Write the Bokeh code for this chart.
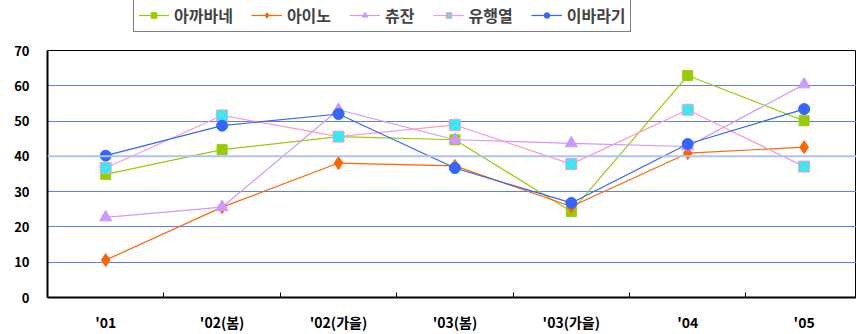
from bokeh.plotting import figure
from bokeh.layouts import column
from bokeh.models import Range1d, FixedTicker, Legend, LegendItem, Span
from bokeh.embed import file_html
from bokeh.resources import INLINE

categories = ["'01", "'02(봄)", "'02(가을)", "'03(봄)", "'03(가을)", "'04", "'05"]
y_ticks = [0, 10, 20, 30, 40, 50, 60, 70]

akabane = [34.9, 41.9, 45.6, 44.7, 24.4, 62.9, 50.1]
aino = [10.6, 25.6, 38.1, 37.3, 25.8, 40.9, 42.6]
chujan = [22.7, 25.6, 53.2, 44.7, 43.7, 42.8, 60.4]
yuhaengyeol = [36.7, 51.6, 45.6, 48.9, 37.8, 53.2, 37.1]
ibaragi = [40.2, 48.7, 52.0, 36.7, 26.8, 43.5, 53.4]

series = [
    ("아까바네", akabane, "#99CC00", "square", "#99CC00", "#99CC00", 10),
    ("아이노", aino, "#FF6600", "diamond", "#FF6600", "#FF6600", 13),
    ("츄잔", chujan, "#CC99FF", "triangle", "#CC99FF", "#CC99FF", 12),
    ("유행열", yuhaengyeol, "#FF99CC", "square_x", "#00FFFF", "#FF99CC", 11),
    ("이바라기", ibaragi, "#3366FF", "circle", "#3366FF", "#3366FF", 11),
]

FONT = "Noto Sans CJK KR"
xs = list(range(len(categories)))

# ---- main chart ----
p = figure(width=856, height=294, output_backend="svg", toolbar_location=None,
           x_range=Range1d(-0.5, 6.45), y_range=Range1d(0, 70),
           min_border_left=47, min_border_right=0, min_border_top=10,
           min_border_bottom=36)
p.background_fill_color = "white"
p.border_fill_color = "white"
p.outline_line_color = "black"
p.outline_line_width = 1

# horizontal grid lines
p.xgrid.grid_line_color = None
p.ygrid.grid_line_color = "#5B7FF5"
p.ygrid.grid_line_width = 1
p.ygrid.ticker = FixedTicker(ticks=[10, 20, 30, 50, 60])
p.add_layout(Span(location=40, dimension="width", line_color="#AFC0FB", line_width=2))

# y axis
p.yaxis.ticker = FixedTicker(ticks=y_ticks)
p.yaxis.axis_line_color = "black"
p.yaxis.axis_line_width = 2
p.yaxis.major_tick_in = 0
p.yaxis.major_tick_out = 0
p.yaxis.minor_tick_line_color = None
p.yaxis.major_label_standoff = 18
p.yaxis.major_label_text_font = FONT
p.yaxis.major_label_text_font_style = "bold"
p.yaxis.major_label_text_font_size = "13px"
p.yaxis.major_label_text_color = "black"

# x axis: labels at category centres, small inward ticks at boundaries
p.xaxis.ticker = FixedTicker(ticks=xs, minor_ticks=[0.5, 1.5, 2.5, 3.5, 4.5, 5.5])
p.xaxis.major_label_overrides = {i: c for i, c in enumerate(categories)}
p.xaxis.axis_line_color = "black"
p.xaxis.axis_line_width = 2
p.xaxis.major_tick_line_color = None
p.xaxis.minor_tick_line_color = "black"
p.xaxis.minor_tick_in = 5
p.xaxis.minor_tick_out = 0
p.xaxis.major_label_standoff = 8
p.xaxis.major_label_text_font = FONT
p.xaxis.major_label_text_font_style = "bold"
p.xaxis.major_label_text_font_size = "14px"
p.xaxis.major_label_text_color = "black"

for name, vals, lc, marker, fc, mlc, size in series:
    p.line(xs, vals, line_color=lc, line_width=1.2)
    p.scatter(xs, vals, marker=marker, size=size, fill_color=fc,
              line_color=mlc, line_width=1)

# ---- legend strip above the chart ----
lg = figure(width=856, height=40, output_backend="svg", toolbar_location=None,
            x_range=Range1d(0, 1), y_range=Range1d(0, 1),
            min_border=0, outline_line_color=None)
lg.axis.visible = False
lg.grid.visible = False

items = []
for name, vals, lc, marker, fc, mlc, size in series:
    # hidden copies of each series; only their legend swatches are shown
    ln = lg.line(xs, vals, line_color=lc, line_width=1.2, visible=False)
    sc = lg.scatter(xs, vals, marker=marker, size=size, fill_color=fc,
                    line_color=mlc, line_width=1, visible=False)
    items.append(LegendItem(label=name, renderers=[ln, sc]))

legend = Legend(items=items, orientation="horizontal", location=(86, 8),
                border_line_color="black", border_line_width=1.5,
                background_fill_color="white", background_fill_alpha=1,
                label_text_font=FONT, label_text_font_style="bold",
                label_text_font_size="16px", glyph_width=31, glyph_height=14,
                label_standoff=5, spacing=18, padding=4, margin=0,
                label_height=16, click_policy="none")
lg.add_layout(legend)

layout = column(lg, p, spacing=0)
open("out.html", "w").write(file_html(layout, INLINE))
